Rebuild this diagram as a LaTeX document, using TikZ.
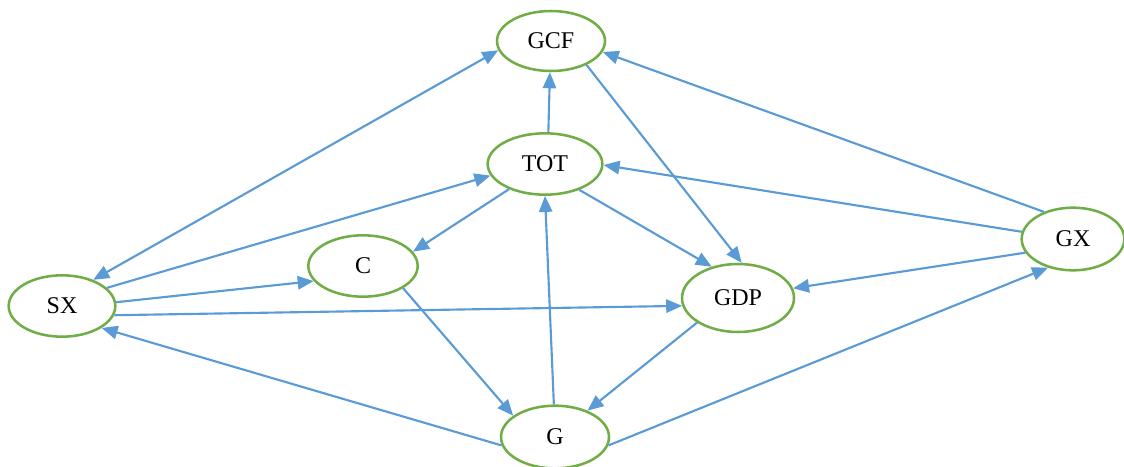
\documentclass[tikz,border=0pt]{standalone}
\usepackage{fontspec}
\setmainfont{Liberation Serif}
\usetikzlibrary{shapes.geometric,arrows.meta}
\definecolor{edgeblue}{RGB}{91,155,213}
\definecolor{nodegreen}{RGB}{112,173,71}
\begin{document}
\begin{tikzpicture}[x=0.75pt,y=-0.75pt,
  var/.style={ellipse,draw=nodegreen,line width=1.9pt,fill=white,inner sep=0pt,
    font=\fontsize{18}{20}\selectfont},
  link/.style={draw=edgeblue,line width=1.6pt,-{Triangle[length=12pt,width=10pt]}},
  blink/.style={draw=edgeblue,line width=1.6pt,{Triangle[length=12pt,width=10pt]}-{Triangle[length=12pt,width=10pt]}}]
\useasboundingbox (0,0) rectangle (1124,467);
\node[var,minimum width=81pt,minimum height=45pt] (GCF) at (551,41) {GCF};
\node[var,minimum width=86pt,minimum height=46pt] (TOT) at (545,164) {TOT};
\node[var,minimum width=82pt,minimum height=46pt] (C) at (363,266) {C};
\node[var,minimum width=80pt,minimum height=46pt] (SX) at (62,306) {SX};
\node[var,minimum width=84pt,minimum height=51pt] (GDP) at (738,298) {GDP};
\node[var,minimum width=77pt,minimum height=47pt] (GX) at (1073,239) {GX};
\node[var,minimum width=81pt,minimum height=47pt] (G) at (555,437) {G};
\draw[blink] (SX.40) -- (GCF.190);
\draw[link] (SX.22) -- (TOT.192);
\draw[link] (SX.4) -- (C.197);
\draw[link] (SX.-10) -- (GDP.188);
\draw[link] (G.189) -- (SX.-29);
\draw[link] (TOT.84) -- (GCF.268);
\draw[link] (TOT.215) -- (C.16);
\draw[link] (TOT.-37) -- (GDP.130);
\draw[link] (GCF.-34) -- (GDP.84);
\draw[link] (GX.137) -- (GCF.-12);
\draw[link] (GX.172) -- (TOT.-1);
\draw[link] (GX.196) -- (GDP.10);
\draw[link] (G.-9) -- (GX.229);
\draw[link] (C.-29) -- (G.153);
\draw[link] (G.92) -- (TOT.-90);
\draw[link] (GDP.211) -- (G.39);
\end{tikzpicture}
\end{document}
